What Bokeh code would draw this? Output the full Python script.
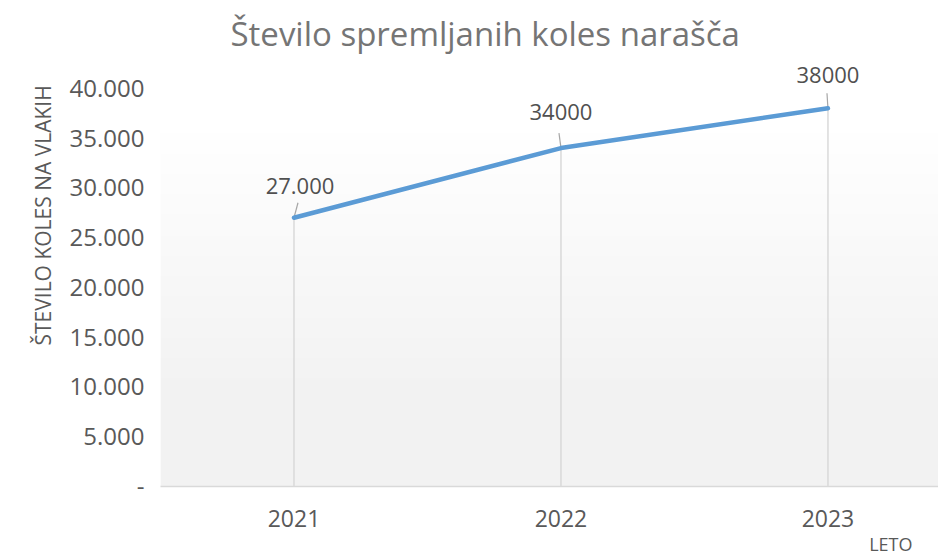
import numpy as np
from bokeh.plotting import figure
from bokeh.models import Range1d, FixedTicker, Title
from bokeh.core.properties import value
from bokeh.embed import file_html
from bokeh.resources import INLINE

# ---- data ----
years = [2021, 2022, 2023]
year_labels = ["2021", "2022", "2023"]
bikes = [27000, 34000, 38000]
point_labels = ["27.000", "34000", "38000"]
y_ticks = [0, 5000, 10000, 15000, 20000, 25000, 30000, 35000, 40000]
y_tick_labels = ["-", "5.000", "10.000", "15.000", "20.000", "25.000", "30.000", "35.000", "40.000"]
title_text = "Število spremljanih koles narašča"
y_title = "ŠTEVILO KOLES NA VLAKIH"
x_title = "LETO"

# ---- layout / style constants ----
W, H = 938, 557
FRAME_LEFT, FRAME_TOP, FRAME_BOTTOM = 160, 55, 71
Y_END = 43300
X_START, X_END = 2020.5, 2023.414
FONT = "Open Sans"
GRAY_TXT = "#595959"
LBL_DX = [6, 0, 0]
LBL_DY = [-32, -36, -33]

p = figure(width=W, height=H, output_backend="svg", toolbar_location=None,
           x_range=Range1d(X_START, X_END), y_range=Range1d(0, Y_END),
           min_border_left=FRAME_LEFT, min_border_right=0,
           min_border_top=FRAME_TOP, min_border_bottom=FRAME_BOTTOM)
p.outline_line_color = None
p.xgrid.visible = False
p.ygrid.visible = False
p.background_fill_color = "white"
p.border_fill_color = "white"

# gradient plot-area background (white in upper part -> #f2f2f2 lower part)
n = 300
t = np.linspace(0, 1, n)  # 0 bottom, 1 top
lo, hi = 0.20, 0.82
frac = np.clip((t - lo) / (hi - lo), 0, 1)
lev = (242 + (255 - 242) * frac).astype(np.uint32)
img = np.zeros((n, 1), dtype=np.uint32)
view = img.view(dtype=np.uint8).reshape((n, 1, 4))
view[:, 0, 0] = lev
view[:, 0, 1] = lev
view[:, 0, 2] = lev
view[:, 0, 3] = 255
p.image_rgba(image=[img], x=X_START, y=0, dw=X_END - X_START, dh=Y_END)

# drop lines
p.segment(x0=years, y0=[0] * len(years), x1=years, y1=bikes,
          line_color="#d9d9d9", line_width=1.5)

# leader lines (from point toward its label)
ppu = 398 / 40000.0
ppx = 267.0
p.segment(x0=years, y0=bikes,
          x1=[y + dx / ppx for y, dx in zip(years, [4, -2, -1])],
          y1=[b + 15 / ppu for b in bikes],
          line_color="#a6a6a6", line_width=1.2)

# line
p.line(years, bikes, line_color="#5b9bd5", line_width=4.5, line_cap="round", line_join="round")

# data labels
p.text(x=years, y=bikes, text=point_labels, x_offset=LBL_DX, y_offset=LBL_DY,
       text_align="center", text_baseline="middle", text_font=value(FONT),
       text_font_size="22px", text_color="#505050")

# axes
p.xaxis.ticker = FixedTicker(ticks=years)
p.xaxis.major_label_overrides = {y: s for y, s in zip(years, year_labels)}
p.xaxis.axis_line_color = "#d9d9d9"
p.xaxis.axis_line_width = 1.5
p.xaxis.major_tick_line_color = None
p.xaxis.minor_tick_line_color = None
p.xaxis.major_label_text_font = FONT
p.xaxis.major_label_text_font_size = "23px"
p.xaxis.major_label_text_color = GRAY_TXT
p.xaxis.major_label_standoff = 17

p.yaxis.ticker = FixedTicker(ticks=y_ticks)
p.yaxis.major_label_overrides = {v: s for v, s in zip(y_ticks, y_tick_labels)}
p.yaxis.axis_line_color = None
p.yaxis.major_tick_line_color = None
p.yaxis.minor_tick_line_color = None
p.yaxis.major_label_text_font = FONT
p.yaxis.major_label_text_font_size = "24px"
p.yaxis.major_label_text_color = GRAY_TXT
p.yaxis.major_label_standoff = 10

# titles
p.title.text = title_text
p.title.align = "left"
p.title.offset = 70
p.title.text_font = FONT
p.title.text_font_size = "33px"
p.title.text_font_style = "normal"
p.title.text_color = "#757575"
p.title.standoff = 0

p.add_layout(Title(text=y_title, align="left", offset=141, text_font=FONT,
                   text_font_size="21px", text_font_style="normal",
                   text_color=GRAY_TXT, standoff=20), "left")
p.add_layout(Title(text=x_title, align="right", offset=26, text_font=FONT,
                   text_font_size="18px", text_font_style="normal",
                   text_color=GRAY_TXT, standoff=0), "below")

open("out.html", "w").write(file_html(p, INLINE))
